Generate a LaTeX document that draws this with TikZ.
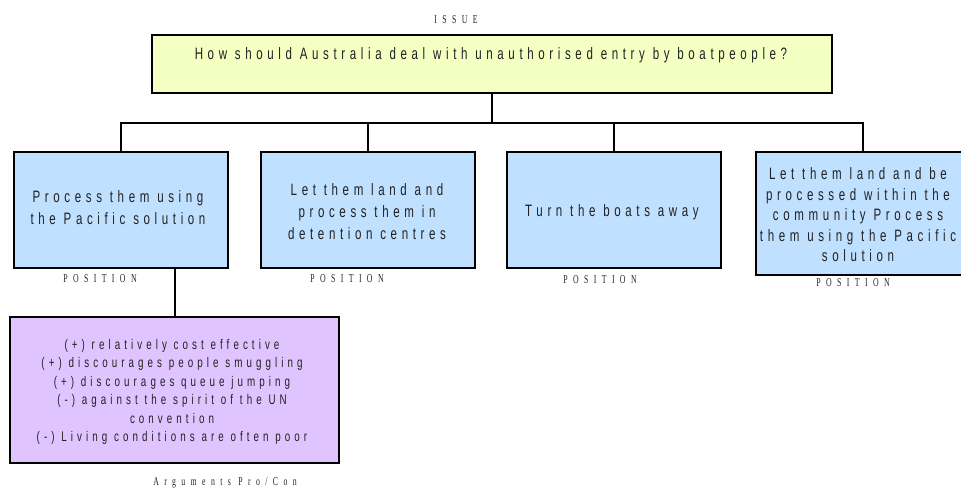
\documentclass[tikz,border=0pt]{standalone}
\usepackage{fontspec}
\setmainfont{Liberation Sans}
\newfontfamily\boxfont[FakeStretch=0.70,LetterSpace=28]{Liberation Sans}
\newfontfamily\argfont[FakeStretch=0.70,LetterSpace=29]{Liberation Sans}
\newfontfamily\labfont[FakeStretch=0.65,LetterSpace=45]{Liberation Serif}
\definecolor{issuefill}{HTML}{F4FFC2}
\definecolor{posfill}{HTML}{C0E0FF}
\definecolor{argfill}{HTML}{E0C4FF}
\definecolor{txt}{HTML}{222222}
\begin{document}
\begin{tikzpicture}[x=1pt,y=-1pt,
  box/.style={draw=black,line width=2pt,inner sep=0pt},
  issuebox/.style={box,fill=issuefill,minimum width=680pt,minimum height=58pt},
  posbox/.style={box,fill=posfill,minimum width=214pt,minimum height=116pt},
  argbox/.style={box,fill=argfill,minimum width=329pt,minimum height=146pt},
  boxtext/.style={text=txt,align=center,font=\boxfont\fontsize{16.5}{22}\selectfont},
  argtext/.style={text=txt,align=center,font=\argfont\fontsize{14}{18.5}\selectfont},
  lab/.style={text=txt,font=\labfont\fontsize{12}{14}\selectfont},
  conn/.style={draw=black,line width=2pt}]
\useasboundingbox (0,0) rectangle (961,490);

\node[lab] (issuelab) at (456,20) {ISSUE};
\node[issuebox] (issue) at (492,64) {};
\node[boxtext] (issuetxt) at (491,55) {How should Australia deal with unauthorised entry by boatpeople?};

\node[posbox] (p1) at (121,210) {};
\node[boxtext] (p1t) at (118,208) {Process them using\\the Pacific solution};
\node[posbox] (p2) at (368,210) {};
\node[boxtext] (p2t) at (367,212) {Let them land and\\process them in\\detention centres};
\node[posbox] (p3) at (614,210) {};
\node[boxtext] (p3t) at (612,212) {Turn the boats away};
\node[posbox,minimum height=123pt] (p4) at (863,213.5) {};
\node[boxtext,font=\boxfont\fontsize{16.5}{20.5}\selectfont] (p4t) at (858,215) {Let them land and be\\processed within the\\community Process\\them using the Pacific\\solution};

\node[lab] (l1) at (100,279) {POSITION};
\node[lab] (l2) at (347,279) {POSITION};
\node[lab] (l3) at (600,280) {POSITION};
\node[lab] (l4) at (853,283) {POSITION};

\node[argbox] (args) at (174.5,390) {};
\node[argtext] (argst) at (172,392) {(+) relatively cost effective\\(+) discourages people smuggling\\(+) discourages queue jumping\\(-) against the spirit of the UN\\convention\\(-) Living conditions are often poor};
\node[lab] (arglab) at (225,483) {Arguments Pro/Con};

\coordinate (bus) at (492,123);
\draw[conn] (issue.south) -- (bus);
\draw[conn] (bus) -| (p1.north);
\draw[conn] (bus) -| (p2.north);
\draw[conn] (bus) -| (p3.north);
\draw[conn] (bus) -| (p4.north);
\draw[conn] (p1.south -| args.north) -- (args.north);
\end{tikzpicture}
\end{document}
